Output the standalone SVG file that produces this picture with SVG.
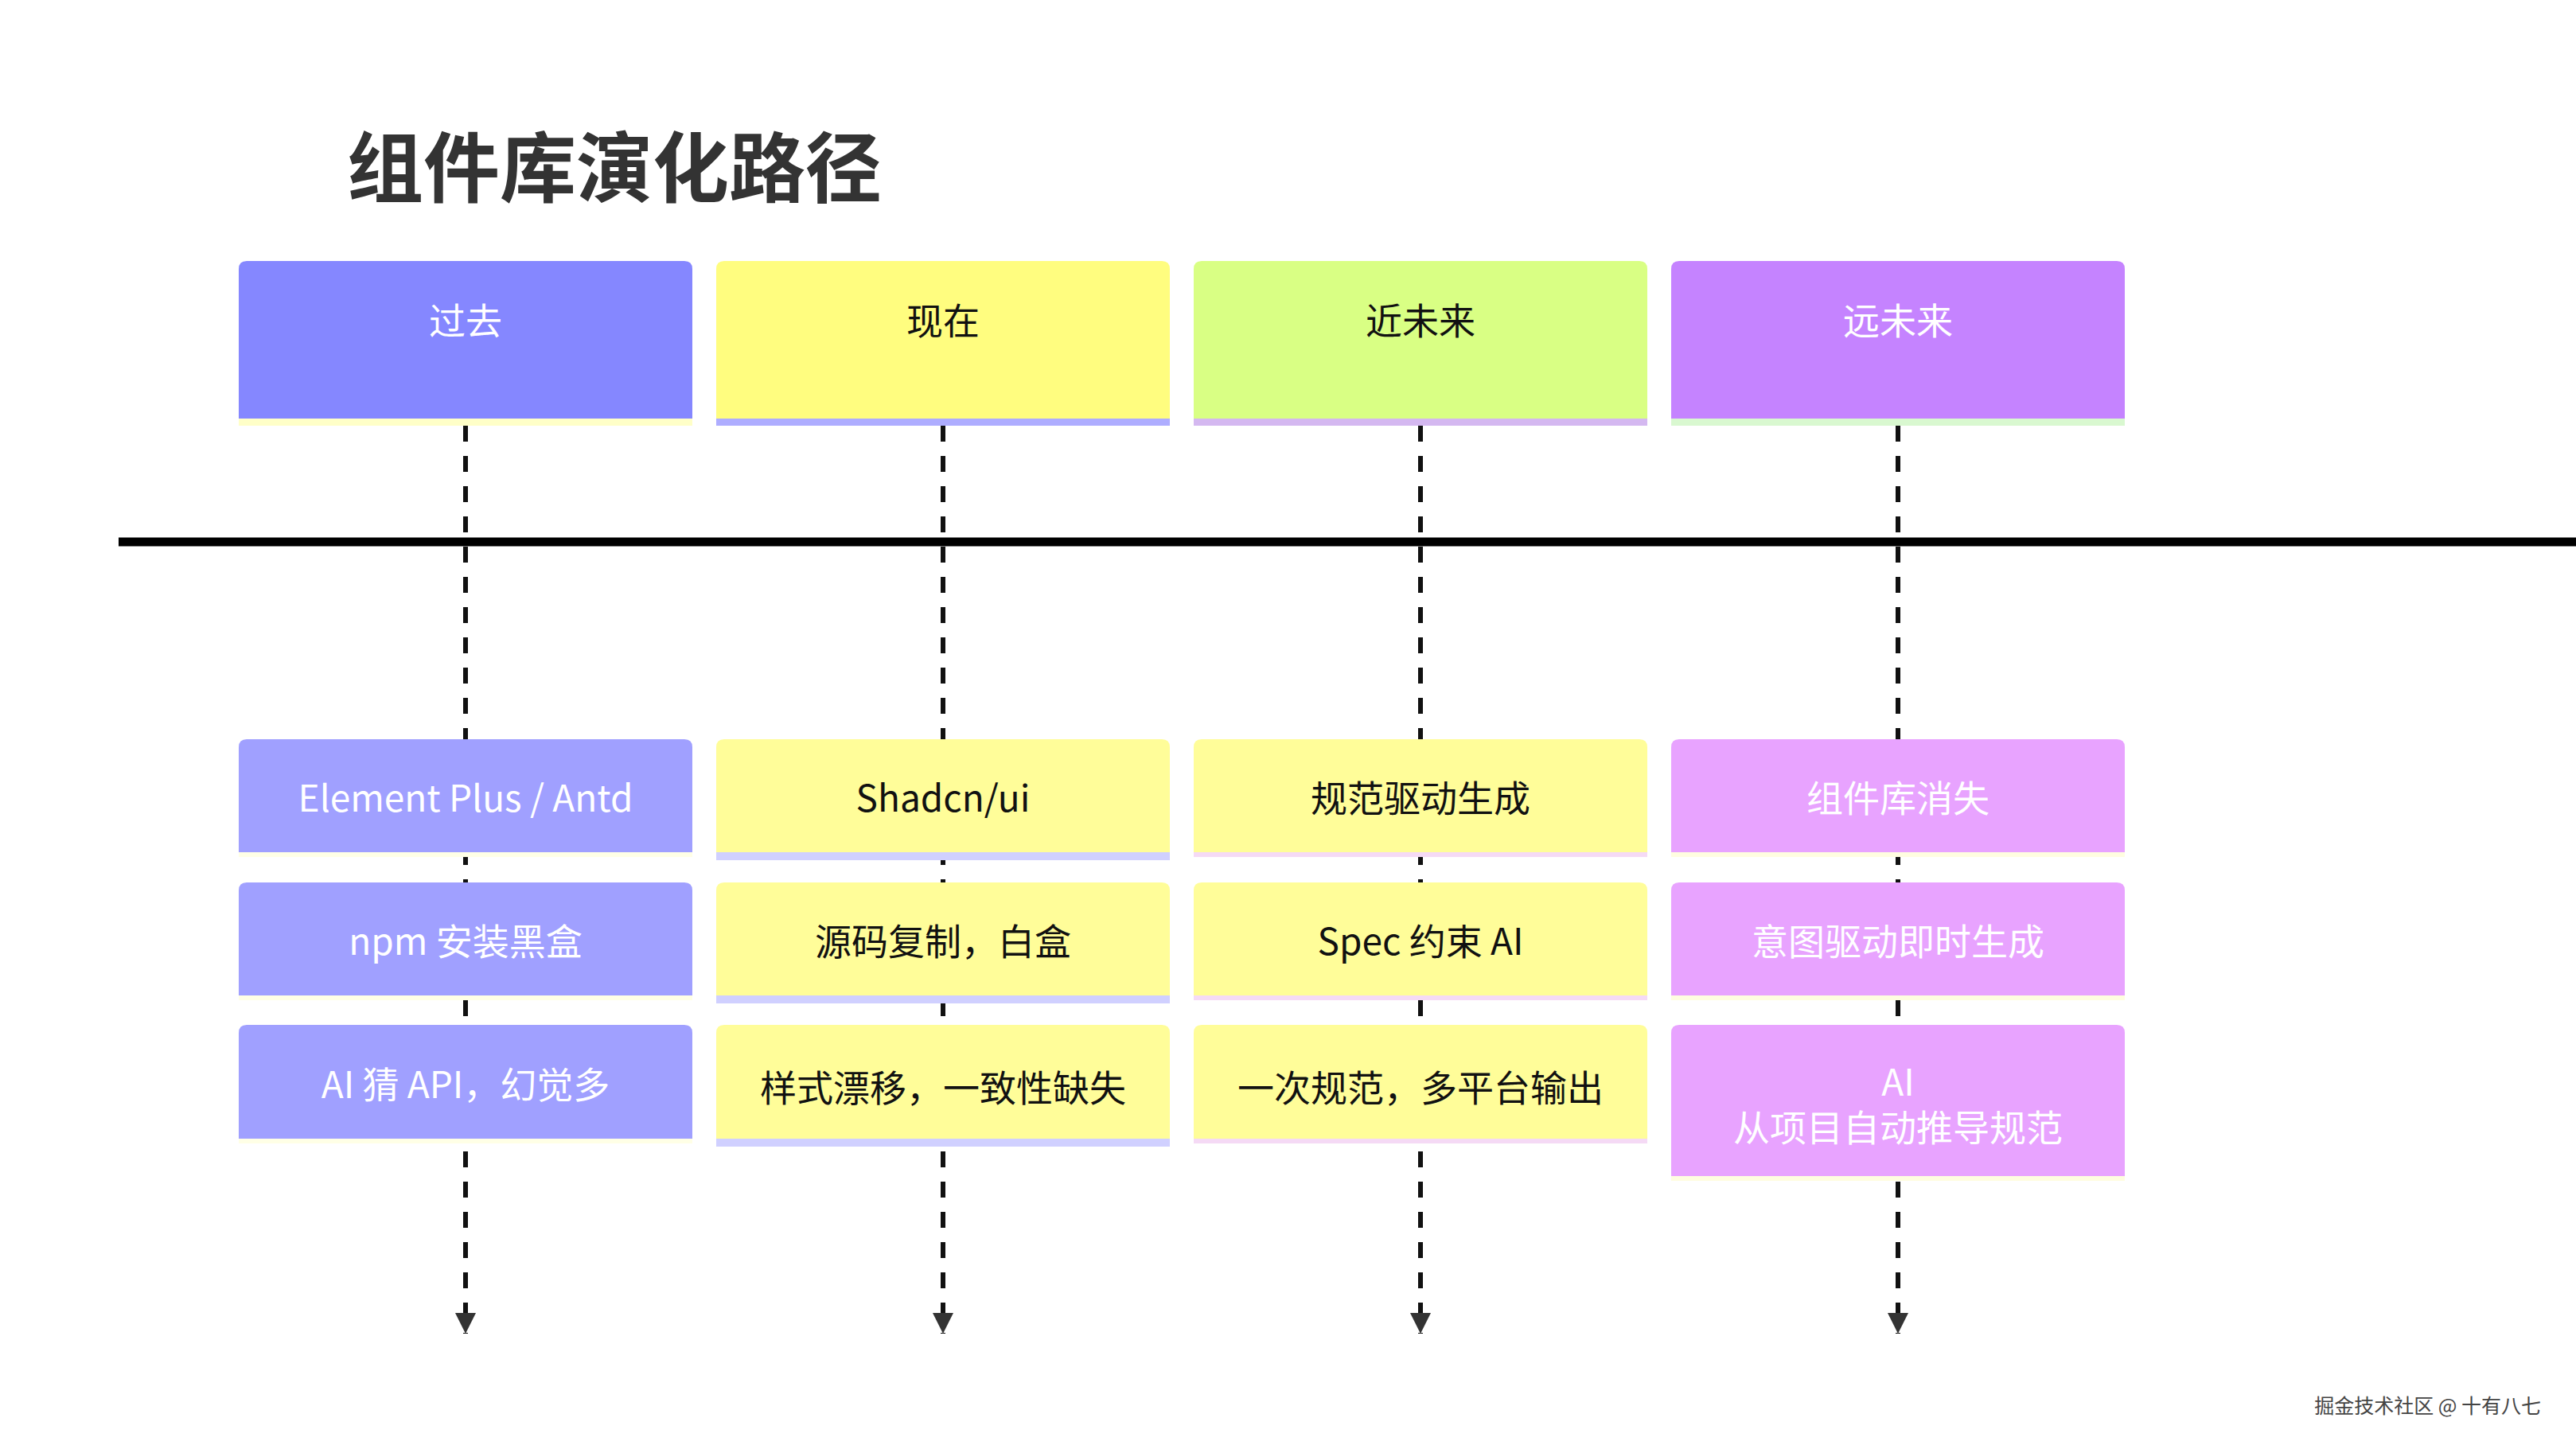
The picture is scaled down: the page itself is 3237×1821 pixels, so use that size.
<svg xmlns="http://www.w3.org/2000/svg" width="3237" height="1821" viewBox="0 0 3237 1821">
<style>
text{font-family:"Noto Sans CJK SC","Noto Sans",sans-serif;text-anchor:middle;dominant-baseline:central}
.h{font-size:46px}.n{font-size:46px}
.w{fill:#ffffff}.b{fill:#111111}
.dash{stroke:#111;stroke-width:6;stroke-dasharray:20 18;fill:none}
</style>
<defs>
<marker id="ar" viewBox="0 0 10 10" refX="10" refY="5" markerWidth="34" markerHeight="26" markerUnits="userSpaceOnUse" orient="auto">
<path d="M0,0 L10,5 L0,10 Z" fill="#333"/>
</marker>
</defs>
<rect width="3237" height="1821" fill="#fff"/>
<text x="436" y="204" style="font-size:96px;font-weight:bold;text-anchor:start" fill="#333">组件库演化路径</text>
<g id="connectors">
<line x1="149" y1="681" x2="3237" y2="681" stroke="#000" stroke-width="11"/>
<line class="dash" x1="585" y1="535" x2="585" y2="1676" marker-end="url(#ar)"/>
<line class="dash" x1="1185" y1="535" x2="1185" y2="1676" marker-end="url(#ar)"/>
<line class="dash" x1="1785" y1="535" x2="1785" y2="1676" marker-end="url(#ar)"/>
<line class="dash" x1="2385" y1="535" x2="2385" y2="1676" marker-end="url(#ar)"/>
</g>
<g id="h1"><rect x="300" y="518" width="570" height="17" fill="#FFFFC8"/><path d="M300,526 V338 Q300,328 310,328 H860 Q870,328 870,338 V526 Z" fill="#8587FF"/><text class="h w" x="585" y="400">过去</text></g>
<g id="h2"><rect x="900" y="518" width="570" height="17" fill="#AEADFF"/><path d="M900,526 V338 Q900,328 910,328 H1460 Q1470,328 1470,338 V526 Z" fill="#FFFD7F"/><text class="h b" x="1185" y="400">现在</text></g>
<g id="h3"><rect x="1500" y="518" width="570" height="17" fill="#D4B8F0"/><path d="M1500,526 V338 Q1500,328 1510,328 H2060 Q2070,328 2070,338 V526 Z" fill="#D9FF84"/><text class="h b" x="1785" y="400">近未来</text></g>
<g id="h4"><rect x="2100" y="518" width="570" height="17" fill="#D9F8D0"/><path d="M2100,526 V338 Q2100,328 2110,328 H2660 Q2670,328 2670,338 V526 Z" fill="#C583FF"/><text class="h w" x="2385" y="400">远未来</text></g>

<g id="p1"><rect x="300" y="1065" width="570" height="12" fill="#FFFFE6"/><path d="M300,1071 V939 Q300,929 310,929 H860 Q870,929 870,939 V1071 Z" fill="#A0A0FF"/><text class="n w" x="585" y="1000">Element Plus / Antd</text></g>
<g id="p2"><rect x="300" y="1245" width="570" height="12" fill="#FFFFE6"/><path d="M300,1251 V1119 Q300,1109 310,1109 H860 Q870,1109 870,1119 V1251 Z" fill="#A0A0FF"/><text class="n w" x="585" y="1180">npm 安装黑盒</text></g>
<g id="p3"><rect x="300" y="1425" width="570" height="12" fill="#FFFFE6"/><path d="M300,1431 V1298 Q300,1288 310,1288 H860 Q870,1288 870,1298 V1431 Z" fill="#A0A0FF"/><text class="n w" x="585" y="1360">AI 猜 API，幻觉多</text></g>

<g id="c1"><rect x="900" y="1065" width="570" height="16" fill="#D0D0FF"/><path d="M900,1071 V939 Q900,929 910,929 H1460 Q1470,929 1470,939 V1071 Z" fill="#FFFD99"/><text class="n b" x="1185" y="1000">Shadcn/ui</text></g>
<g id="c2"><rect x="900" y="1245" width="570" height="16" fill="#D0D0FF"/><path d="M900,1251 V1119 Q900,1109 910,1109 H1460 Q1470,1109 1470,1119 V1251 Z" fill="#FFFD99"/><text class="n b" x="1185" y="1180">源码复制，白盒</text></g>
<g id="c3"><rect x="900" y="1425" width="570" height="16" fill="#D0D0FF"/><path d="M900,1431 V1298 Q900,1288 910,1288 H1460 Q1470,1288 1470,1298 V1431 Z" fill="#FFFD99"/><text class="n b" x="1185" y="1364">样式漂移，一致性缺失</text></g>

<g id="n1"><rect x="1500" y="1065" width="570" height="12" fill="#F5DAF5"/><path d="M1500,1071 V939 Q1500,929 1510,929 H2060 Q2070,929 2070,939 V1071 Z" fill="#FFFD99"/><text class="n b" x="1785" y="1000">规范驱动生成</text></g>
<g id="n2"><rect x="1500" y="1245" width="570" height="12" fill="#F5DAF5"/><path d="M1500,1251 V1119 Q1500,1109 1510,1109 H2060 Q2070,1109 2070,1119 V1251 Z" fill="#FFFD99"/><text class="n b" x="1785" y="1180">Spec 约束 AI</text></g>
<g id="n3"><rect x="1500" y="1425" width="570" height="12" fill="#F5DAF5"/><path d="M1500,1431 V1298 Q1500,1288 1510,1288 H2060 Q2070,1288 2070,1298 V1431 Z" fill="#FFFD99"/><text class="n b" x="1785" y="1364">一次规范，多平台输出</text></g>

<g id="f1"><rect x="2100" y="1065" width="570" height="12" fill="#FFFDE0"/><path d="M2100,1071 V939 Q2100,929 2110,929 H2660 Q2670,929 2670,939 V1071 Z" fill="#E8A3FF"/><text class="n w" x="2385" y="1000">组件库消失</text></g>
<g id="f2"><rect x="2100" y="1245" width="570" height="12" fill="#FFFDE0"/><path d="M2100,1251 V1119 Q2100,1109 2110,1109 H2660 Q2670,1109 2670,1119 V1251 Z" fill="#E8A3FF"/><text class="n w" x="2385" y="1180">意图驱动即时生成</text></g>
<g id="f3"><rect x="2100" y="1472" width="570" height="12" fill="#FFFDE0"/><path d="M2100,1478 V1298 Q2100,1288 2110,1288 H2660 Q2670,1288 2670,1298 V1478 Z" fill="#E8A3FF"/><text class="n w" x="2385" y="1357">AI</text><text class="n w" x="2385" y="1414">从项目自动推导规范</text></g>

<text x="3193" y="1765" style="font-size:25px;text-anchor:end" fill="#444">掘金技术社区 @ 十有八七</text>
</svg>
